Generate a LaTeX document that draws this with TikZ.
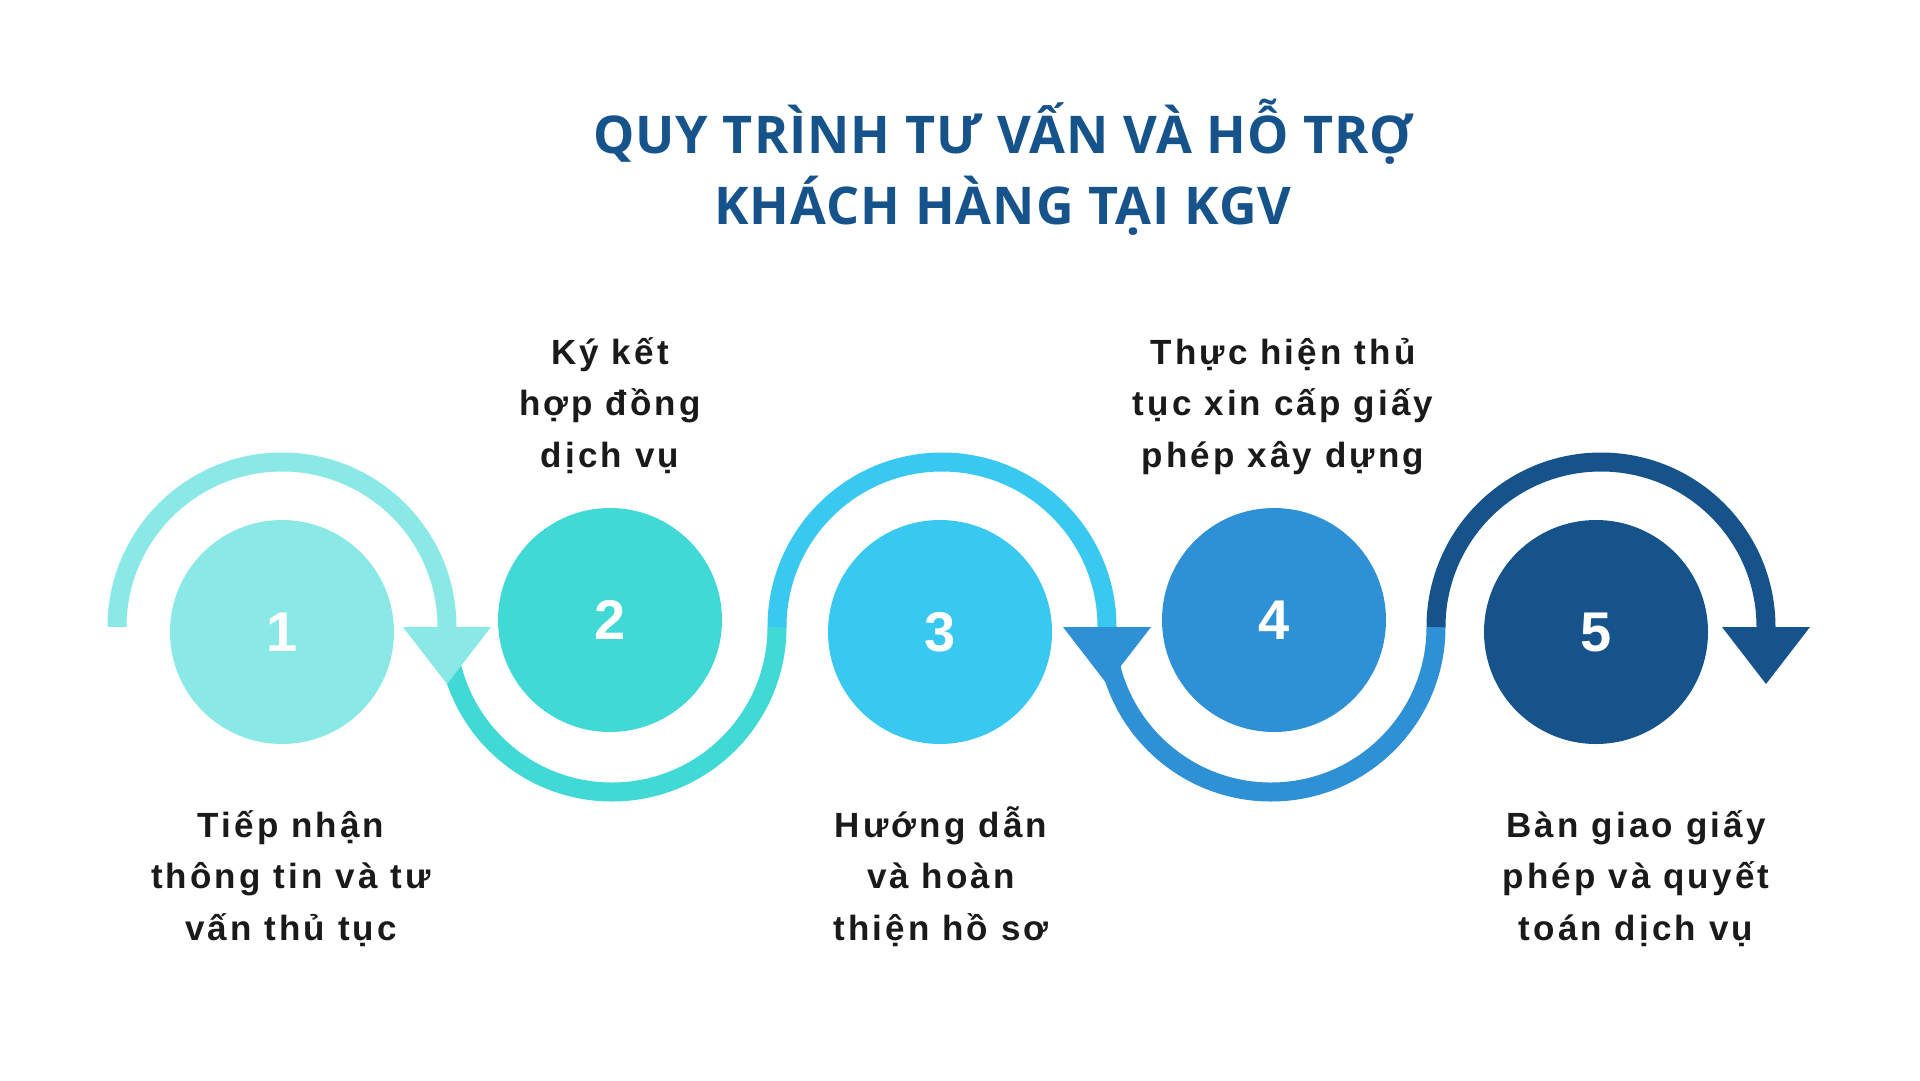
\documentclass[tikz,border=0pt]{standalone}
\usepackage{fontspec}
\setmainfont{Liberation Sans}
\newfontfamily\titlefont{Open Sans}[LetterSpace=2]
\newfontfamily\labfont{Liberation Sans}[LetterSpace=9]
\usetikzlibrary{arrows.meta}
\definecolor{bg}{HTML}{FFFFFF}
\definecolor{stepa}{HTML}{8AE9E7}
\definecolor{stepb}{HTML}{41D9D6}
\definecolor{stepc}{HTML}{38C8F0}
\definecolor{stepd}{HTML}{2E90D5}
\definecolor{stepe}{HTML}{16538A}
\definecolor{navy}{HTML}{16538A}
\definecolor{ink}{HTML}{1A1A1A}
\tikzset{
  band/.style={line width=19pt},
  stephead/.style={-{Triangle[width=88pt,length=57pt,line width=0pt,color=#1]}},
  dot/.style={circle, minimum size=224pt, inner sep=0pt, text=white, font=\fontsize{56}{60}\selectfont\bfseries},
  lab/.style={text=ink, align=center, anchor=base, inner sep=0pt, font=\labfont\bfseries\fontsize{35}{51.5}\selectfont},
  ttl/.style={text=navy, align=center, anchor=base, inner sep=0pt, font=\titlefont\bfseries\fontsize{52}{71}\selectfont},
}
\begin{document}
\begin{tikzpicture}[x=1pt, y=-1pt]
\useasboundingbox (0,0) rectangle (1920,1080);
\fill[bg] (0,0) rectangle (1920,1080);

\node[ttl] (title) at (1003,224) {QUY TRÌNH TƯ VẤN VÀ HỖ TRỢ\\KHÁCH HÀNG TẠI KGV};

% joints of the wave
\coordinate (j0) at (117,627);
\coordinate (j1) at (447,627);
\coordinate (j2) at (777,627);
\coordinate (j3) at (1106,627);
\coordinate (j4) at (1436,627);

% lower bends first, heads lie on top of them
\draw[band, draw=stepb] (j1) arc[start angle=180, end angle=0, radius=165];
\draw[band, draw=stepd] (j3) arc[start angle=180, end angle=0, radius=165];
\draw[band, draw=stepa, stephead=stepa] (j0) arc[start angle=180, end angle=360, radius=165] -- ++(0,57);
\draw[band, draw=stepc, stephead=stepd] (j2) arc[start angle=180, end angle=360, radius=165] -- ++(0,57);
\draw[band, draw=stepe, stephead=stepe] (j4) arc[start angle=180, end angle=360, radius=165] -- ++(0,57);

\node[dot, fill=stepa] (s1) at (282,632) {1};
\node[dot, fill=stepb] (s2) at (610,620) {2};
\node[dot, fill=stepc] (s3) at (940,632) {3};
\node[dot, fill=stepd] (s4) at (1274,620) {4};
\node[dot, fill=stepe] (s5) at (1596,632) {5};

\node[lab] (t1) at (291,940) {Tiếp nhận\\thông tin và tư\\vấn thủ tục};
\node[lab] (t2) at (610,467) {Ký kết\\hợp đồng\\dịch vụ};
\node[lab] (t3) at (941,940) {Hướng dẫn\\và hoàn\\thiện hồ sơ};
\node[lab] (t4) at (1283,467) {Thực hiện thủ\\tục xin cấp giấy\\phép xây dựng};
\node[lab] (t5) at (1636,940) {Bàn giao giấy\\phép và quyết\\toán dịch vụ};
\end{tikzpicture}
\end{document}
